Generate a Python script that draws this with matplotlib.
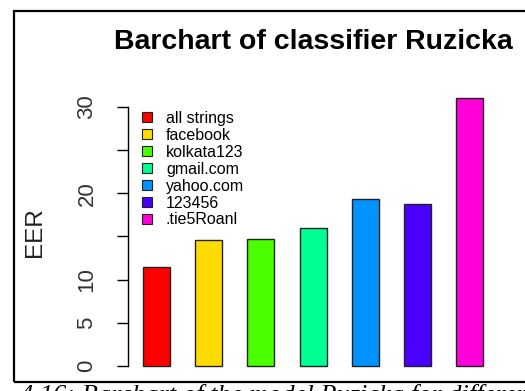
import matplotlib
matplotlib.use("Agg")
import matplotlib.pyplot as plt
from matplotlib.patches import Rectangle, Patch

plt.rcParams['font.family'] = ['Liberation Sans', 'DejaVu Sans']

# EER per password
labels = ['all strings', 'facebook', 'kolkata123', 'gmail.com', 'yahoo.com', '123456', '.tie5Roanl']
eer = [11.5, 14.6, 14.75, 15.95, 19.4, 18.8, 31.1]
colors = ['#FF0000', '#FFDB00', '#49FF00', '#00FF92', '#0092FF', '#4900FF', '#FF00DB']
yticks = [0, 5, 10, 15, 20, 25, 30]
ytick_labels = ['0', '5', '10', '', '20', '', '30']

W, H = 525, 391
fig = plt.figure(figsize=(W / 100, H / 100), dpi=100)

# plot region in pixels (left, top, right, bottom)
L, T, R, B = 128, 86.8, 498.2, 376.7
ax = fig.add_axes([L / W, 1 - B / H, (R - L) / W, (B - T) / H])

x = list(range(len(eer)))
ax.bar(x, eer, width=0.52, color=colors, edgecolor='#222222', linewidth=1.0)

pad = 0.04 * max(eer)
ax.set_ylim(-pad, max(eer) + pad)
ax.set_xlim(-0.546, len(eer) - 1 + 0.546)

for s in ['top', 'right', 'bottom']:
    ax.spines[s].set_visible(False)
ax.spines['left'].set_bounds(0, 30)
ax.spines['left'].set_linewidth(1.0)
ax.set_xticks([])
ax.set_yticks(yticks)
ax.set_yticklabels(ytick_labels, rotation=90, va='center', fontsize=16, color='#333333')
ax.tick_params(axis='y', length=8, width=1.0, pad=14)

ax.set_ylabel('EER', fontsize=17.5, labelpad=22, color='#222222')
ax.set_title('Barchart of classifier Ruzicka', fontsize=20.5, fontweight='bold', pad=27)

handles = [Patch(facecolor=c, edgecolor='#222222', linewidth=0.8) for c in colors]
ax.legend(handles, labels, loc='upper left', bbox_to_anchor=(142 / W, 1 - 111 / H),
          bbox_transform=fig.transFigure, frameon=False, fontsize=11.5,
          handlelength=0.65, handleheight=0.6, handletextpad=0.85,
          labelspacing=0.12, borderpad=0, borderaxespad=0)

# outer frame
fig.add_artist(Rectangle((14 / W, 1 - 381.7 / H), (W + 5 - 14) / W, (381.7 - 11) / H,
                         transform=fig.transFigure, fill=False, edgecolor='black',
                         linewidth=1.6, clip_on=False))

# caption underneath, cut by the bottom edge
fig.text(20 / W, 1 - 384 / H, '4.16: Barchart of the model Ruzicka for different passwords',
         fontsize=19, style='italic', family='Liberation Serif', va='top', ha='left')

fig.savefig('out.png', dpi=100)
